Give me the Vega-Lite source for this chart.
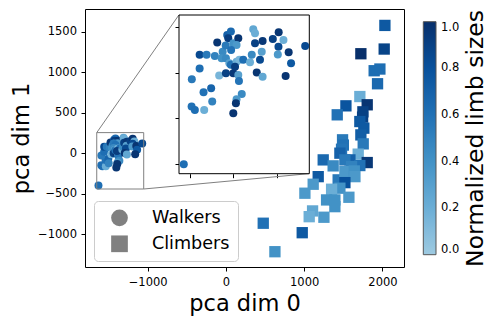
{
  "$schema": "https://vega.github.io/schema/vega-lite/v6.json",
  "width": 319,
  "height": 258,
  "autosize": {"type": "none"},
  "padding": {"left": 85, "top": 9, "right": 95, "bottom": 57},
  "background": "#ffffff",
  "config": {
    "font": "DejaVu Sans",
    "view": {"stroke": "#000000", "strokeWidth": 1},
    "axis": {
      "labelFont": "DejaVu Sans", "labelFontSize": 11.5, "labelColor": "#000000",
      "tickColor": "#000000", "tickSize": 4, "tickWidth": 1, "grid": false, "domain": false,
      "titleFont": "DejaVu Sans", "titleFontSize": 23, "titleFontWeight": "normal", "titleColor": "#000000"
    },
    "legend": {
      "labelFont": "DejaVu Sans", "labelColor": "#000000",
      "titleFont": "DejaVu Sans", "titleColor": "#000000", "titleFontWeight": "normal"
    }
  },
  "datasets": {
    "pts": [
      {"x": -1628, "y": -401, "limb": 0.62, "type": "Walkers"},
      {"x": -1592, "y": -148, "limb": 0.6, "type": "Walkers"},
      {"x": -1577, "y": -163, "limb": 0.62, "type": "Walkers"},
      {"x": -1534, "y": -163, "limb": 0.2, "type": "Walkers"},
      {"x": -1537, "y": -85, "limb": 0.6, "type": "Walkers"},
      {"x": -1502, "y": -68, "limb": 0.68, "type": "Walkers"},
      {"x": -1497, "y": -126, "limb": 0.5, "type": "Walkers"},
      {"x": -1591, "y": -28, "limb": 0.55, "type": "Walkers"},
      {"x": -1555, "y": 19, "limb": 0.62, "type": "Walkers"},
      {"x": -1555, "y": 79, "limb": 0.85, "type": "Walkers"},
      {"x": -1523, "y": 79, "limb": 0.55, "type": "Walkers"},
      {"x": -1485, "y": 74, "limb": 0.5, "type": "Walkers"},
      {"x": -1474, "y": 133, "limb": 0.97, "type": "Walkers"},
      {"x": -1449, "y": 93, "limb": 0.45, "type": "Walkers"},
      {"x": -1454, "y": 64, "limb": 0.4, "type": "Walkers"},
      {"x": -1428, "y": 166, "limb": 0.7, "type": "Walkers"},
      {"x": -1411, "y": 181, "limb": 0.65, "type": "Walkers"},
      {"x": -1423, "y": 152, "limb": 0.92, "type": "Walkers"},
      {"x": -1400, "y": 130, "limb": 0.4, "type": "Walkers"},
      {"x": -1377, "y": 152, "limb": 0.97, "type": "Walkers"},
      {"x": -1385, "y": 122, "limb": 0.35, "type": "Walkers"},
      {"x": -1435, "y": 120, "limb": 0.55, "type": "Walkers"},
      {"x": -1410, "y": 100, "limb": 0.6, "type": "Walkers"},
      {"x": -1434, "y": 64, "limb": 0.45, "type": "Walkers"},
      {"x": -1418, "y": 42, "limb": 0.3, "type": "Walkers"},
      {"x": -1465, "y": -12, "limb": 0.15, "type": "Walkers"},
      {"x": -1434, "y": -2, "limb": 0.9, "type": "Walkers"},
      {"x": -1400, "y": -2, "limb": 0.95, "type": "Walkers"},
      {"x": -1411, "y": 35, "limb": 0.6, "type": "Walkers"},
      {"x": -1385, "y": 49, "limb": 0.2, "type": "Walkers"},
      {"x": -1372, "y": 57, "limb": 0.15, "type": "Walkers"},
      {"x": -1354, "y": 57, "limb": 0.62, "type": "Walkers"},
      {"x": -1377, "y": -9, "limb": 0.3, "type": "Walkers"},
      {"x": -1374, "y": -36, "limb": 0.58, "type": "Walkers"},
      {"x": -1361, "y": -93, "limb": 0.45, "type": "Walkers"},
      {"x": -1385, "y": -116, "limb": 0.35, "type": "Walkers"},
      {"x": -1388, "y": -134, "limb": 0.97, "type": "Walkers"},
      {"x": -1400, "y": -177, "limb": 0.97, "type": "Walkers"},
      {"x": -1392, "y": 27, "limb": 0.92, "type": "Walkers"},
      {"x": -1323, "y": 46, "limb": 0.2, "type": "Walkers"},
      {"x": -1315, "y": 79, "limb": 0.45, "type": "Walkers"},
      {"x": -1308, "y": 191, "limb": 0.25, "type": "Walkers"},
      {"x": -1300, "y": 174, "limb": 0.2, "type": "Walkers"},
      {"x": -1300, "y": 130, "limb": 0.9, "type": "Walkers"},
      {"x": -1265, "y": 140, "limb": 0.95, "type": "Walkers"},
      {"x": -1269, "y": 93, "limb": 0.3, "type": "Walkers"},
      {"x": -1277, "y": 57, "limb": 0.85, "type": "Walkers"},
      {"x": -1292, "y": 2, "limb": 0.97, "type": "Walkers"},
      {"x": -1265, "y": -17, "limb": 0.25, "type": "Walkers"},
      {"x": -1218, "y": 149, "limb": 0.9, "type": "Walkers"},
      {"x": -1191, "y": 178, "limb": 0.97, "type": "Walkers"},
      {"x": -1169, "y": 144, "limb": 0.2, "type": "Walkers"},
      {"x": -1192, "y": 115, "limb": 0.85, "type": "Walkers"},
      {"x": -1195, "y": 81, "limb": 0.35, "type": "Walkers"},
      {"x": -1145, "y": 90, "limb": 0.97, "type": "Walkers"},
      {"x": -1134, "y": 42, "limb": 0.75, "type": "Walkers"},
      {"x": -1159, "y": -14, "limb": 0.97, "type": "Walkers"},
      {"x": -1069, "y": 118, "limb": 0.85, "type": "Walkers"},
      {"x": 2031, "y": 1579, "limb": 0.75, "type": "Climbers"},
      {"x": 2022, "y": 1287, "limb": 0.88, "type": "Climbers"},
      {"x": 1724, "y": 1229, "limb": 1.0, "type": "Climbers"},
      {"x": 1894, "y": 1019, "limb": 0.62, "type": "Climbers"},
      {"x": 1967, "y": 1040, "limb": 0.62, "type": "Climbers"},
      {"x": 1937, "y": 858, "limb": 0.65, "type": "Climbers"},
      {"x": 1711, "y": 700, "limb": 0.2, "type": "Climbers"},
      {"x": 1805, "y": 598, "limb": 0.97, "type": "Climbers"},
      {"x": 1533, "y": 585, "limb": 0.78, "type": "Climbers"},
      {"x": 1422, "y": 474, "limb": 0.6, "type": "Climbers"},
      {"x": 1750, "y": 511, "limb": 0.9, "type": "Climbers"},
      {"x": 1746, "y": 446, "limb": 0.9, "type": "Climbers"},
      {"x": 1711, "y": 391, "limb": 0.75, "type": "Climbers"},
      {"x": 1762, "y": 309, "limb": 0.75, "type": "Climbers"},
      {"x": 1724, "y": 226, "limb": 0.72, "type": "Climbers"},
      {"x": 1490, "y": 165, "limb": 0.55, "type": "Climbers"},
      {"x": 1754, "y": 115, "limb": 0.55, "type": "Climbers"},
      {"x": 1500, "y": 100, "limb": 0.6, "type": "Climbers"},
      {"x": 1477, "y": 49, "limb": 0.58, "type": "Climbers"},
      {"x": 1456, "y": 0, "limb": 0.7, "type": "Climbers"},
      {"x": 1690, "y": -12, "limb": 0.2, "type": "Climbers"},
      {"x": 1805, "y": -116, "limb": 0.95, "type": "Climbers"},
      {"x": 1243, "y": -83, "limb": 0.65, "type": "Climbers"},
      {"x": 1584, "y": -83, "limb": 0.7, "type": "Climbers"},
      {"x": 1370, "y": -157, "limb": 0.45, "type": "Climbers"},
      {"x": 1520, "y": -83, "limb": 0.55, "type": "Climbers"},
      {"x": 1711, "y": -153, "limb": 0.6, "type": "Climbers"},
      {"x": 1605, "y": -165, "limb": 0.5, "type": "Climbers"},
      {"x": 1179, "y": -290, "limb": 0.75, "type": "Climbers"},
      {"x": 1434, "y": -330, "limb": 0.55, "type": "Climbers"},
      {"x": 1520, "y": -228, "limb": 0.35, "type": "Climbers"},
      {"x": 1640, "y": -220, "limb": 0.4, "type": "Climbers"},
      {"x": 1648, "y": -290, "limb": 0.35, "type": "Climbers"},
      {"x": 1520, "y": -364, "limb": 0.8, "type": "Climbers"},
      {"x": 1115, "y": -384, "limb": 0.35, "type": "Climbers"},
      {"x": 1456, "y": -433, "limb": 0.4, "type": "Climbers"},
      {"x": 1350, "y": -446, "limb": 0.2, "type": "Climbers"},
      {"x": 1009, "y": -495, "limb": 0.35, "type": "Climbers"},
      {"x": 1286, "y": -578, "limb": 0.4, "type": "Climbers"},
      {"x": 1392, "y": -578, "limb": 0.4, "type": "Climbers"},
      {"x": 1571, "y": -545, "limb": 0.35, "type": "Climbers"},
      {"x": 1392, "y": -661, "limb": 0.4, "type": "Climbers"},
      {"x": 1107, "y": -714, "limb": 0.25, "type": "Climbers"},
      {"x": 1064, "y": -785, "limb": 0.2, "type": "Climbers"},
      {"x": 1252, "y": -792, "limb": 0.35, "type": "Climbers"},
      {"x": 477, "y": -866, "limb": 0.6, "type": "Climbers"},
      {"x": 975, "y": -983, "limb": 0.75, "type": "Climbers"},
      {"x": 626, "y": -1218, "limb": 0.4, "type": "Climbers"}
    ]
  },
  "layer": [
    {
      "layer": [
        {
          "data": {"name": "pts"},
          "transform": [{"filter": "datum.type === 'Walkers'"}],
          "mark": {"type": "point", "filled": true, "opacity": 1, "size": 64},
          "encoding": {
            "x": {
              "field": "x", "type": "quantitative",
              "scale": {"domain": [-1800, 2275], "nice": false, "zero": false},
              "axis": {"values": [-1000, 0, 1000, 2000], "format": "d", "title": "pca dim 0", "labelExpr": "replace(datum.label, '-', '−')", "labelPadding": 5, "titlePadding": 5, "titleFontSize": 22.5}
            },
            "y": {
              "field": "y", "type": "quantitative",
              "scale": {"domain": [-1407, 1782], "nice": false, "zero": false},
              "axis": {"values": [-1000, -500, 0, 500, 1000, 1500], "format": "d", "title": "pca dim 1", "labelExpr": "replace(datum.label, '-', '−')", "labelPadding": 4.5, "titlePadding": 4, "titleFontSize": 22.5}
            },
            "color": {
              "field": "limb", "type": "quantitative",
              "scale": {"domain": [0, 1], "range": ["#9ecae1", "#6baed6", "#4292c6", "#2171b5", "#08519c", "#08306b"], "interpolate": "rgb"},
              "legend": {
                "orient": "none", "legendX": 338.3, "legendY": 12.7, "direction": "vertical",
                "gradientLength": 233, "gradientThickness": 12.7, "gradientStrokeColor": "#555555", "gradientStrokeWidth": 1,
                "values": [0, 0.2, 0.4, 0.6, 0.8, 1], "format": ".1f", "labelFontSize": 11.5, "labelOffset": 5, "labelOverlap": false,
                "labelBaseline": "middle",
                "title": null, "padding": 0
              }
            },
            "shape": {
              "field": "type", "type": "nominal",
              "scale": {"domain": ["Walkers", "Climbers"], "range": ["circle", "square"]},
              "legend": {
                "title": null, "orient": "none", "legendX": 9, "legendY": 192, "padding": 8,
                "fillColor": "#ffffff", "strokeColor": "#cccccc", "cornerRadius": 4,
                "symbolSize": 279, "symbolFillColor": "#808080", "symbolStrokeWidth": 0, "symbolOffset": 8.7,
                "labelOffset": 23.6, "labelFontSize": 17.6, "rowPadding": 7,
                "encode": {"symbols": {"update": {"size": {"signal": "datum.value === 'Walkers' ? 137 : 279"}, "fill": {"value": "#808080"}, "opacity": {"value": 1}}}}
              }
            }
          }
        },
        {
          "data": {"name": "pts"},
          "transform": [{"filter": "datum.type === 'Climbers'"}],
          "mark": {"type": "point", "filled": true, "opacity": 1, "size": 128},
          "encoding": {
            "x": {"field": "x", "type": "quantitative"},
            "y": {"field": "y", "type": "quantitative"},
            "color": {"field": "limb", "type": "quantitative"},
            "shape": {"field": "type", "type": "nominal"}
          }
        },
        {
          "data": {"values": [{"x": -1650, "x2": -1050, "y": -443, "y2": 254}]},
          "mark": {"type": "rect", "fillOpacity": 0, "stroke": "#808080", "strokeWidth": 1},
          "encoding": {
            "x": {"field": "x", "type": "quantitative"},
            "x2": {"field": "x2"},
            "y": {"field": "y", "type": "quantitative"},
            "y2": {"field": "y2"}
          }
        }
      ]
    },
    {
      "data": {"values": [{"x": -1650, "y": 254, "x2": -600, "y2": 1709}, {"x": -1050, "y": -443, "x2": 1064, "y2": -253}]},
      "mark": {"type": "rule", "stroke": "#808080", "strokeWidth": 1},
      "encoding": {
        "x": {"field": "x", "type": "quantitative", "scale": {"domain": [-1800, 2275], "nice": false, "zero": false}, "axis": null},
        "x2": {"field": "x2"},
        "y": {
          "field": "y", "type": "quantitative", "scale": {"domain": [-1407, 1782], "nice": false, "zero": false},
          "axis": {"orient": "right", "offset": 59, "ticks": false, "labels": false, "domain": false, "title": "Normalized limb sizes", "titleAngle": 270, "titleBaseline": "top", "titlePadding": 0, "titleFontSize": 23.5}
        },
        "y2": {"field": "y2"}
      }
    },
    {
      "layer": [
        {
          "data": {"values": [{"x": -1650, "x2": -1050, "y": -443, "y2": 254}]},
          "mark": {"type": "rect", "fill": "#ffffff", "stroke": "#000000", "strokeWidth": 1},
          "encoding": {
            "x": {
              "field": "x", "type": "quantitative",
              "scale": {"domain": [-1650, -1050], "range": [94, 224.3], "nice": false, "zero": false},
              "axis": {"orient": "bottom", "offset": -93.3, "labels": false, "title": null, "values": [-1600, -1400, -1200], "tickSize": 4}
            },
            "x2": {"field": "x2"},
            "y": {
              "field": "y", "type": "quantitative",
              "scale": {"domain": [-443, 254], "range": [164.7, 6], "nice": false, "zero": false},
              "axis": {"orient": "left", "offset": -94, "labels": false, "title": null, "values": [-400, -200, 0, 200], "tickSize": 4}
            },
            "y2": {"field": "y2"}
          }
        },
        {
          "data": {"name": "pts"},
          "transform": [{"filter": "datum.type === 'Walkers'"}],
          "mark": {"type": "circle", "size": 64, "opacity": 1},
          "encoding": {
            "x": {"field": "x", "type": "quantitative"},
            "y": {"field": "y", "type": "quantitative"},
            "color": {"field": "limb", "type": "quantitative"}
          }
        }
      ]
    }
  ],
  "resolve": {"scale": {"x": "independent", "y": "independent"}, "axis": {"x": "independent", "y": "independent"}}
}
